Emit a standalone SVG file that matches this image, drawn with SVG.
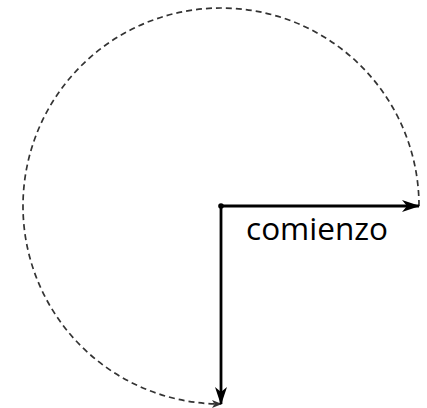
<svg xmlns="http://www.w3.org/2000/svg" width="427" height="408" viewBox="0 0 427 408">
<defs>
<style>
.main{fill:none;stroke:#000;stroke-width:2.8}
.dash{fill:none;stroke:#333;stroke-width:1.7;stroke-dasharray:6 4}
.lbl{font-family:"Open Sans","Noto Sans",sans-serif;font-size:31.5px;fill:#000}
</style>
<marker id="ah" viewBox="0 0 18 12" refX="17" refY="6" markerWidth="18" markerHeight="12" markerUnits="userSpaceOnUse" orient="auto">
<path d="M0,0 L18,6 L0,12 L5,6 Z" fill="#000"/>
</marker>
<marker id="ahs" viewBox="0 0 10 8" refX="9" refY="4" markerWidth="10" markerHeight="8" markerUnits="userSpaceOnUse" orient="auto">
<path d="M0,0 L10,4 L0,8 L2.5,4 Z" fill="#333"/>
</marker>
</defs>
<g id="connectors">
<path class="dash" d="M419,206 A198,198 0 1 0 221,404" marker-end="url(#ahs)"/>
<line class="main" x1="221" y1="206" x2="419" y2="206" marker-end="url(#ah)"/>
<line class="main" x1="221" y1="206" x2="221" y2="404" marker-end="url(#ah)"/>
</g>
<g id="origin">
<circle cx="221" cy="206" r="2.8" fill="#000"/>
</g>
<g id="label">
<text class="lbl" x="317" y="240" text-anchor="middle">comienzo</text>
</g>
</svg>
